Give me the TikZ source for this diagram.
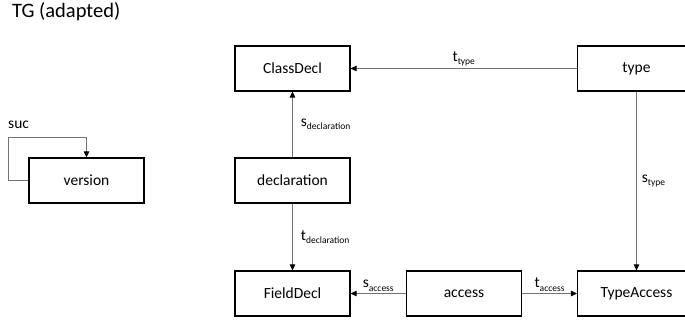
\documentclass[tikz,border=0pt]{standalone}
\usepackage{fontspec}
\setmainfont{Carlito}
\usetikzlibrary{arrows.meta}
\newcommand{\edgelbl}[2]{#1\raisebox{-3.5pt}{\fontsize{9.5}{11}\selectfont #2}}
\begin{document}
\begin{tikzpicture}[x=1pt,y=-1pt,
  typebox/.style={draw,line width=1.1pt,minimum width=115pt,minimum height=45pt,inner sep=0pt,font=\fontsize{15.5}{18}\selectfont},
  conn/.style={draw=black!55,line width=0.8pt,-{Triangle[length=6pt,width=5.5pt,color=black]}},
  lbl/.style={font=\fontsize{15.5}{18}\selectfont,inner sep=1pt}]
\useasboundingbox (0,0) rectangle (685,320);
\node[anchor=west,font=\fontsize{20.5}{24}\selectfont,inner sep=0pt] at (12,12) (title) {TG (adapted)};
% type graph nodes
\node[typebox] at (86.5,180.5) (version) {version};
\node[typebox] at (292.5,68.5) (classdecl) {ClassDecl};
\node[typebox] at (292.5,180.5) (declaration) {declaration};
\node[typebox] at (292.5,293.5) (fielddecl) {FieldDecl};
\node[typebox] at (464,293.5) (access) {access};
\node[typebox,minimum width=118pt] at (636.5,68.5) (type) {type};
\node[typebox,minimum width=118pt] at (636.5,293.5) (typeaccess) {TypeAccess};
% edges
\coordinate (sucloop) at (8,137);
\draw[conn] (version.west) -| (sucloop) -| (version.north);
\node[lbl,anchor=south west] at (7,130) (suc) {suc};
\draw[conn] (type) -- node[lbl,above=1pt] (ttype) {\edgelbl{t}{type}} (classdecl);
\draw[conn] (declaration) -- node[lbl,right=7pt] (sdecl) {\edgelbl{s}{declaration}} (classdecl);
\draw[conn] (declaration) -- node[lbl,right=7pt] (tdecl) {\edgelbl{t}{declaration}} (fielddecl);
\draw[conn] (type) -- node[lbl,right=4pt] (stype) {\edgelbl{s}{type}} (typeaccess);
\draw[conn] (access) -- node[lbl,above=1pt] (saccess) {\edgelbl{s}{access}} (fielddecl);
\draw[conn] (access) -- node[lbl,above=1pt] (taccess) {\edgelbl{t}{access}} (typeaccess);
\end{tikzpicture}
\end{document}
